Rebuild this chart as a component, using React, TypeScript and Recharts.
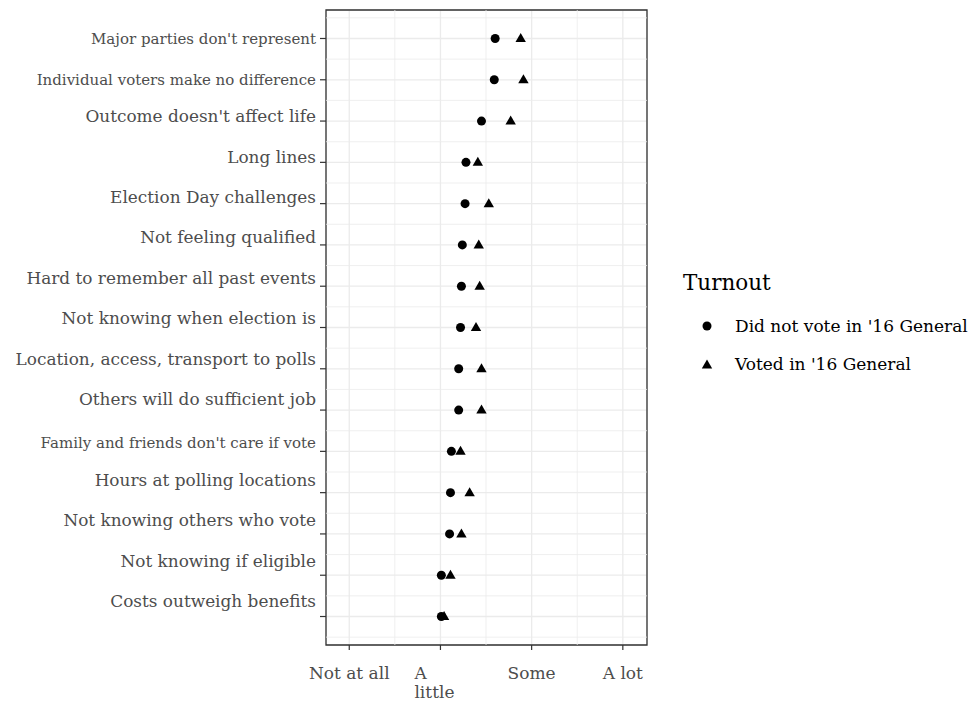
import React from "react";
import {
  ScatterChart,
  Scatter,
  XAxis,
  YAxis,
  CartesianGrid,
  ReferenceLine,
  ReferenceArea,
  Legend,
} from "recharts";

// reasons for not voting, top to bottom
const reasons = [
  "Major parties don't represent",
  "Individual voters make no difference",
  "Outcome doesn't affect life",
  "Long lines",
  "Election Day challenges",
  "Not feeling qualified",
  "Hard to remember all past events",
  "Not knowing when election is",
  "Location, access, transport to polls",
  "Others will do sufficient job",
  "Family and friends don't care if vote",
  "Hours at polling locations",
  "Not knowing others who vote",
  "Not knowing if eligible",
  "Costs outweigh benefits",
];

const didNotVote = [2.6, 2.59, 2.45, 2.28, 2.27, 2.24, 2.23, 2.22, 2.2, 2.2, 2.12, 2.11, 2.1, 2.01, 2.01];
const votedIn16 = [2.88, 2.91, 2.77, 2.41, 2.53, 2.42, 2.43, 2.39, 2.45, 2.45, 2.22, 2.32, 2.23, 2.11, 2.04];

const xTicks = [1, 2, 3, 4];
const xTickLabels = ["Not at all", "A\nlittle", "Some", "A lot"];
const xMinor = [1.5, 2.5, 3.5];

const seriesNames = ["Did not vote in '16 General", "Voted in '16 General"];

// labels drawn in a smaller size in the original
const smallLabels = [
  "Major parties don't represent",
  "Individual voters make no difference",
  "Family and friends don't care if vote",
];

const yTicks = reasons.map((_, i) => i);
const yMinor = [-0.5, ...reasons.map((_, i) => i + 0.5)];

const notVotedRows = reasons.map((r, i) => ({ idx: i, reason: r, value: didNotVote[i] }));
const votedRows = reasons.map((r, i) => ({ idx: i, reason: r, value: votedIn16[i] }));

const FONT = "'DejaVu Serif', serif";
const AXIS_TEXT = "#4d4d4d";
const GRID = "#ebebeb";

const X_DOMAIN: [number, number] = [0.745, 4.265];
const Y_DOMAIN: [number, number] = [-0.69, 14.69];

function YTick(props: any) {
  const { x, y, payload } = props;
  const label = reasons[payload.value];
  const small = smallLabels.includes(label);
  const dy = 3 - 0.9 * payload.value + (small ? 3 : 0);
  return (
    <text
      x={x}
      y={y + dy}
      textAnchor="end"
      fill={AXIS_TEXT}
      fontFamily={FONT}
      fontSize={small ? 15 : 16.9}
    >
      {label}
    </text>
  );
}

function XTick(props: any) {
  const { x, y, payload } = props;
  const i = xTicks.indexOf(payload.value);
  const lines = (xTickLabels[i] || "").split("\n");
  if (lines.length > 1) {
    return (
      <text x={x - 26} y={y + 27} textAnchor="start" fill={AXIS_TEXT} fontFamily={FONT} fontSize={17}>
        {lines.map((l, k) => (
          <tspan key={k} x={x - 26} dy={k === 0 ? 0 : 19}>
            {l}
          </tspan>
        ))}
      </text>
    );
  }
  return (
    <text x={x} y={y + 27} textAnchor="middle" fill={AXIS_TEXT} fontFamily={FONT} fontSize={17}>
      {lines[0]}
    </text>
  );
}

const Dot = (p: any) => <circle cx={p.cx} cy={p.cy} r={4.5} fill="#000" />;
const Tri = (p: any) => (
  <path
    d={`M${p.cx},${p.cy - 5.5} L${p.cx + 5.2},${p.cy + 3.5} L${p.cx - 5.2},${p.cy + 3.5} Z`}
    fill="#000"
  />
);

function TurnoutLegend() {
  return (
    <div style={{ fontFamily: FONT, color: "#000" }}>
      <div style={{ fontSize: 21.5, marginBottom: 12 }}>Turnout</div>
      {seriesNames.map((name, i) => (
        <div key={name} style={{ display: "flex", alignItems: "center", height: 38 }}>
          <svg width={46} height={20}>
            {i === 0 ? <Dot cx={24} cy={10} /> : <Tri cx={24} cy={11} />}
          </svg>
          <span style={{ fontSize: 17, marginLeft: 6 }}>{name}</span>
        </div>
      ))}
    </div>
  );
}

export default function App() {
  return (
    <div style={{ position: "absolute", left: 0, top: 0, width: 968, height: 702, background: "#fff" }}>
      <ScatterChart width={968} height={702} margin={{ top: 10, right: 321, bottom: 0, left: 0 }}>
        <CartesianGrid stroke={GRID} strokeWidth={1.3} />
        {xMinor.map((v) => (
          <ReferenceLine key={"x" + v} x={v} stroke={GRID} strokeWidth={0.8} />
        ))}
        {yMinor.map((v) => (
          <ReferenceLine key={"y" + v} y={v} stroke={GRID} strokeWidth={0.8} />
        ))}
        <XAxis
          type="number"
          dataKey="value"
          domain={X_DOMAIN}
          ticks={xTicks}
          allowDataOverflow
          height={57}
          tickSize={5}
          tickMargin={2}
          axisLine={false}
          tickLine={{ stroke: "#333", strokeWidth: 1.2 }}
          tick={<XTick />}
        />
        <YAxis
          type="number"
          dataKey="idx"
          domain={Y_DOMAIN}
          ticks={yTicks}
          reversed
          allowDataOverflow
          interval={0}
          width={326}
          tickSize={6}
          tickMargin={4}
          axisLine={false}
          tickLine={{ stroke: "#333", strokeWidth: 1.2 }}
          tick={<YTick />}
        />
        <ReferenceArea
          x1={X_DOMAIN[0]}
          x2={X_DOMAIN[1]}
          y1={Y_DOMAIN[0]}
          y2={Y_DOMAIN[1]}
          fill="none"
          fillOpacity={0}
          stroke="#333"
          strokeWidth={1.3}
          ifOverflow="visible"
        />
        <Scatter name={seriesNames[0]} data={notVotedRows} shape={Dot} isAnimationActive={false} />
        <Scatter name={seriesNames[1]} data={votedRows} shape={Tri} isAnimationActive={false} />
        <Legend
          layout="vertical"
          align="center"
          verticalAlign="middle"
          content={<TurnoutLegend />}
          wrapperStyle={{ left: 683, top: 270, width: 285 }}
        />
      </ScatterChart>
    </div>
  );
}
